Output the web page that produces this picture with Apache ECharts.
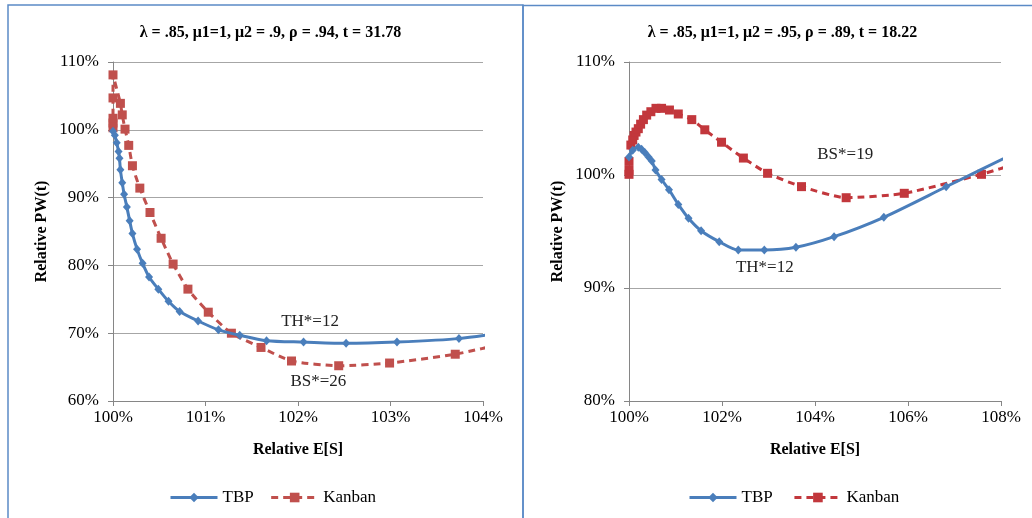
<!DOCTYPE html>
<html><head><meta charset="utf-8">
<script src="https://cdn.jsdelivr.net/npm/echarts@6/dist/echarts.min.js"></script>
<style>html,body{margin:0;padding:0;background:#fff}#c{width:1032px;height:518px}</style>
</head><body><div id="c"></div>
<script>
// ---- data ----
const leftTitle = 'λ = .85, μ1=1, μ2 = .9, ρ = .94, t = 31.78';
const rightTitle = 'λ = .85, μ1=1, μ2 = .95, ρ = .89, t = 18.22';
const seriesNames = ['TBP', 'Kanban'];

const leftTbpX = [100.00,100.02,100.04,100.06,100.07,100.08,100.10,100.12,100.15,100.18,100.21,100.26,100.32,100.39,100.49,100.60,100.72,100.92,101.14,101.37,101.66,102.06,102.52,103.07,103.74,104.30];
const leftTbpY = [99.8,99.2,98.1,96.8,95.8,94.1,92.2,90.5,88.6,86.6,84.7,82.4,80.3,78.3,76.5,74.7,73.2,71.8,70.5,69.7,68.9,68.7,68.5,68.7,69.2,70.25];

const leftKanbanX = [100.00,100.00,100.00,100.00,100.00,100.08,100.10,100.13,100.17,100.21,100.29,100.40,100.52,100.65,100.81,101.03,101.28,101.60,101.93,102.44,102.99,103.70,104.30];
const leftKanbanY = [100.3,101.0,101.7,104.7,108.1,103.9,102.2,100.1,97.7,94.7,91.4,87.8,84.0,80.2,76.5,73.1,70.0,67.9,65.9,65.2,65.6,66.9,68.7];

const rightTbpX = [100.00,100.08,100.20,100.27,100.34,100.42,100.49,100.57,100.70,100.86,101.06,101.28,101.55,101.94,102.35,102.91,103.59,104.41,105.48,106.82,108.40];
const rightTbpY = [101.6,102.2,102.45,102.27,102.0,101.6,101.24,100.44,99.6,98.7,97.4,96.17,95.07,94.1,93.36,93.36,93.6,94.54,96.26,98.96,102.15];

const rightKanbanX = [100.00,100.00,100.00,100.04,100.08,100.11,100.15,100.20,100.25,100.31,100.38,100.47,100.58,100.70,100.87,101.06,101.35,101.63,101.99,102.46,102.98,103.71,104.67,105.92,107.58,108.40];
const rightKanbanY = [100.06,100.4,101.2,102.65,103.1,103.5,103.8,104.1,104.5,104.9,105.3,105.6,105.9,105.9,105.75,105.4,104.9,104.0,102.9,101.5,100.15,98.97,97.99,98.38,100.06,101.1];

const leftXTicks = {min:100, max:104, interval:1};
const leftYTicks = {min:60, max:110, interval:10};
const rightXTicks = {min:100, max:108, interval:2};
const rightYTicks = {min:80, max:110, interval:10};

const annotations = [
  {grid:0, text:'TH*=12', x:102.13, y:71.7},
  {grid:0, text:'BS*=26', x:102.22, y:62.8},
  {grid:1, text:'BS*=19', x:104.65, y:101.85},
  {grid:1, text:'TH*=12', x:102.92, y:91.8}
];

// ---- chart ----
const FONT = '"Liberation Serif","Times New Roman",serif';
const BLUE = '#4a7ebb';
const RED_L = '#c0504d';
const RED_R = '#c2373c';
const zip = (a, b) => a.map((v, i) => [v, b[i]]);

function xAxis(gi, t) {
  return {
    type: 'value', gridIndex: gi, min: t.min, max: t.max, interval: t.interval,
    name: 'Relative E[S]', nameLocation: 'middle', nameGap: 41,
    nameTextStyle: {fontFamily: FONT, fontWeight: 'bold', fontSize: 16, color: '#000'},
    axisLine: {onZero: false, lineStyle: {color: '#868686', width: 1}},
    axisTick: {show: true, length: 5, lineStyle: {color: '#868686'}},
    axisLabel: {formatter: v => v + '%', fontFamily: FONT, fontSize: 17, color: '#000', margin: 8},
    splitLine: {show: false}
  };
}
function yAxis(gi, t) {
  return {
    type: 'value', gridIndex: gi, min: t.min, max: t.max, interval: t.interval,
    name: 'Relative PW(t)', nameLocation: 'middle', nameGap: 63,
    nameTextStyle: {fontFamily: FONT, fontWeight: 'bold', fontSize: 16, color: '#000'},
    axisLine: {show: true, onZero: false, lineStyle: {color: '#868686', width: 1}},
    axisTick: {show: true, length: 5, lineStyle: {color: '#868686'}},
    axisLabel: {formatter: v => v + '%', fontFamily: FONT, fontSize: 17, color: '#000', margin: 14},
    splitLine: {show: true, lineStyle: {color: '#a6a6a6', width: 1}}
  };
}
function tbp(name, gi, data) {
  return {
    name, type: 'line', xAxisIndex: gi, yAxisIndex: gi, data, smooth: 0.25, clip: true,
    symbol: 'diamond', symbolSize: [8, 9], showAllSymbol: true,
    lineStyle: {color: BLUE, width: 3}, itemStyle: {color: BLUE}, z: 3
  };
}
function kanban(name, gi, data, color) {
  return {
    name, type: 'line', xAxisIndex: gi, yAxisIndex: gi, data, smooth: 0.2, clip: true,
    symbol: 'rect', symbolSize: 9, showAllSymbol: true,
    lineStyle: {color: color, width: 3, type: [7, 5]}, itemStyle: {color: color}, z: 2
  };
}
function legend(left, names) {
  return {
    left, top: 484, itemWidth: 47, itemHeight: 12, itemGap: 16,
    data: names, textStyle: {fontFamily: FONT, fontSize: 17, color: '#000'},
    lineStyle: {width: 3},
    selectedMode: false
  };
}

const chart = echarts.init(document.getElementById('c'));
const option = {
  animation: false,
  backgroundColor: '#fff',
  title: [
    {text: leftTitle, left: 265.5, top: 20, textAlign: 'center',
     textStyle: {fontFamily: FONT, fontWeight: 'bold', fontSize: 16, color: '#000'}},
    {text: rightTitle, left: 777.5, top: 20, textAlign: 'center',
     textStyle: {fontFamily: FONT, fontWeight: 'bold', fontSize: 16, color: '#000'}}
  ],
  grid: [
    {left: 113, top: 62, width: 370, height: 339},
    {left: 629, top: 62, width: 372, height: 339}
  ],
  xAxis: [xAxis(0, leftXTicks), xAxis(1, rightXTicks)],
  yAxis: [yAxis(0, leftYTicks), yAxis(1, rightYTicks)],
  legend: [
    legend(164, seriesNames),
    legend(683, seriesNames.map(n => n + ' '))
  ],
  series: [
    tbp(seriesNames[0], 0, zip(leftTbpX, leftTbpY)),
    kanban(seriesNames[1], 0, zip(leftKanbanX, leftKanbanY), RED_L),
    tbp(seriesNames[0] + ' ', 1, zip(rightTbpX, rightTbpY)),
    kanban(seriesNames[1] + ' ', 1, zip(rightKanbanX, rightKanbanY), RED_R)
  ]
};
chart.setOption(option);

const graphics = [
  {type: 'rect', shape: {x: 8, y: 5, width: 515, height: 600}, style: {fill: 'none', stroke: '#5b8ac6', lineWidth: 1.5}, silent: true},
  {type: 'rect', shape: {x: 523, y: 5.5, width: 600, height: 600}, style: {fill: 'none', stroke: '#5b8ac6', lineWidth: 1.5}, silent: true}
];
annotations.forEach(a => {
  const p = chart.convertToPixel({gridIndex: a.grid}, [a.x, a.y]);
  graphics.push({type: 'text', x: p[0], y: p[1], silent: true, z: 10,
    style: {text: a.text, font: '17px ' + FONT, fill: '#222', align: 'center', verticalAlign: 'middle'}});
});
chart.setOption({graphic: graphics});
</script>
</body></html>
